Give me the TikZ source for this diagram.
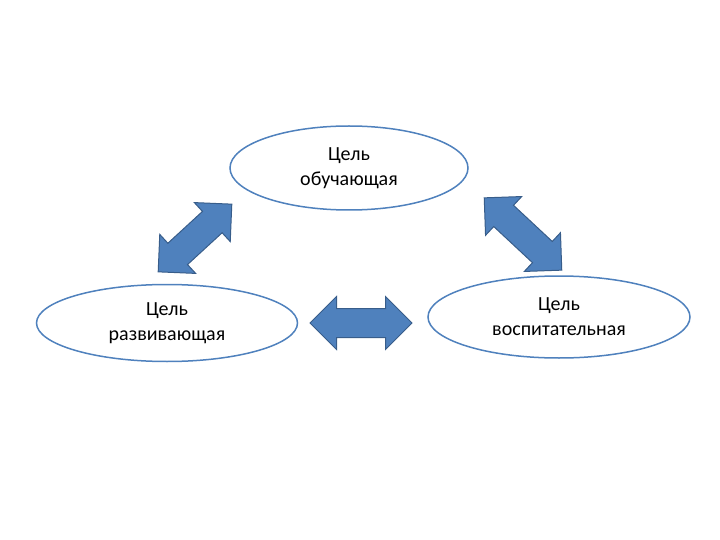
\documentclass[tikz,border=0pt]{standalone}
\usepackage{fontspec}
\setmainfont{Carlito}
\usetikzlibrary{shapes.arrows,shapes.geometric}
\definecolor{ablue}{HTML}{4F81BD}
\definecolor{dblue}{HTML}{385D8A}
\begin{document}
\begin{tikzpicture}[x=1pt,y=-1pt,
  goal/.style={draw=ablue,line width=1.5pt,fill=white,ellipse,align=center,font=\fontsize{20}{25}\selectfont,inner sep=0pt},
  darr/.style={double arrow,draw=dblue,fill=ablue,line width=1pt,double arrow head extend=12pt,inner xsep=0pt,inner ysep=14pt,text width=0pt}]
\useasboundingbox (0,0) rectangle (720,540);
\node[goal,minimum width=238pt,minimum height=84pt] (top) at (349,168) {Цель\\обучающая};
\node[goal,minimum width=261pt,minimum height=77pt] (left) at (167,323) {Цель\\развивающая};
\node[goal,minimum width=262pt,minimum height=82pt] (right) at (559,317) {Цель\\воспитательная};
\node[darr,minimum height=102pt] (h) at (361,323) {};
\node[darr,minimum height=100pt,rotate=42.6] (l) at (195,238) {};
\node[darr,minimum height=106pt,rotate=-43] (r) at (523,234) {};
\end{tikzpicture}
\end{document}
